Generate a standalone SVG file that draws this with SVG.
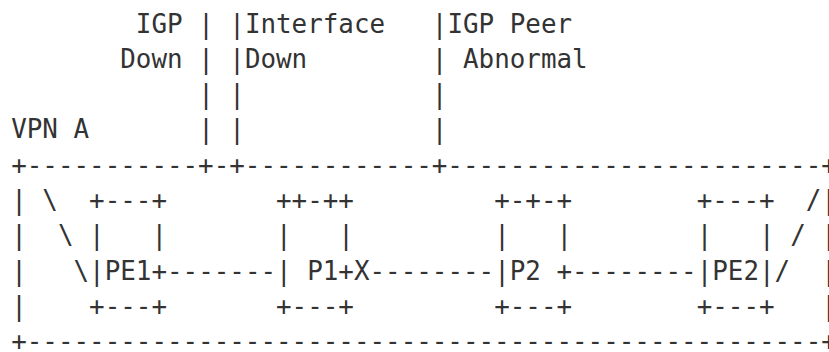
<svg xmlns="http://www.w3.org/2000/svg" width="829" height="352" viewBox="0 0 829 352" xml:space="preserve">
<style>
text{font-family:"DejaVu Sans Mono","Liberation Mono",monospace;font-size:25.88px;fill:#333;white-space:pre}
</style>
<rect width="829" height="352" fill="#fff"/>
<g id="labels">
<text x="135.84" y="32.5">IGP</text>
<text x="120.26" y="67.8">Down</text>
<text x="244.9" y="32.5">Interface</text>
<text x="244.9" y="67.8">Down</text>
<text x="447.44" y="32.5">IGP Peer</text>
<text x="463.02" y="67.8">Abnormal</text>
<text x="11.2" y="138.4">VPN A</text>
</g>
<g id="leaders">
<text x="198.16" y="32.5">| |</text>
<text x="198.16" y="67.8">| |</text>
<text x="198.16" y="103.1">| |</text>
<text x="198.16" y="138.4">| |</text>
<text x="431.86" y="32.5">|</text>
<text x="431.86" y="67.8">|</text>
<text x="431.86" y="103.1">|</text>
<text x="431.86" y="138.4">|</text>
</g>
<g id="vpn-border">
<text x="11.2" y="173.7">+-----------+-+------------+------------------------+</text>
<text x="11.2" y="350.2">+---------------------------------------------------+</text>
<text x="11.2" y="209">|</text>
<text x="11.2" y="244.3">|</text>
<text x="11.2" y="279.6">|</text>
<text x="11.2" y="314.9">|</text>
<text x="821.36" y="209">|</text>
<text x="821.36" y="244.3">|</text>
<text x="821.36" y="279.6">|</text>
<text x="821.36" y="314.9">|</text>
<text x="42.36" y="209">\</text>
<text x="57.94" y="244.3">\</text>
<text x="73.52" y="279.6">\</text>
<text x="805.78" y="209">/</text>
<text x="790.2" y="244.3">/</text>
<text x="774.62" y="279.6">/</text>
</g>
<g id="PE1">
<text x="89.1" y="209">+---+</text>
<text x="89.1" y="244.3">|   |</text>
<text x="89.1" y="279.6">|PE1+</text>
<text x="89.1" y="314.9">+---+</text>
</g>
<g id="P1">
<text x="276.06" y="209">++-++</text>
<text x="276.06" y="244.3">|   |</text>
<text x="276.06" y="279.6">| P1+</text>
<text x="276.06" y="314.9">+---+</text>
</g>
<g id="P2">
<text x="494.18" y="209">+-+-+</text>
<text x="494.18" y="244.3">|   |</text>
<text x="494.18" y="279.6">|P2 +</text>
<text x="494.18" y="314.9">+---+</text>
</g>
<g id="PE2">
<text x="696.72" y="209">+---+</text>
<text x="696.72" y="244.3">|   |</text>
<text x="696.72" y="279.6">|PE2|</text>
<text x="696.72" y="314.9">+---+</text>
</g>
<g id="connectors">
<text x="167" y="279.6">-------</text>
<text x="353.96" y="279.6">X--------</text>
<text x="572.08" y="279.6">--------</text>
</g>
</svg>
